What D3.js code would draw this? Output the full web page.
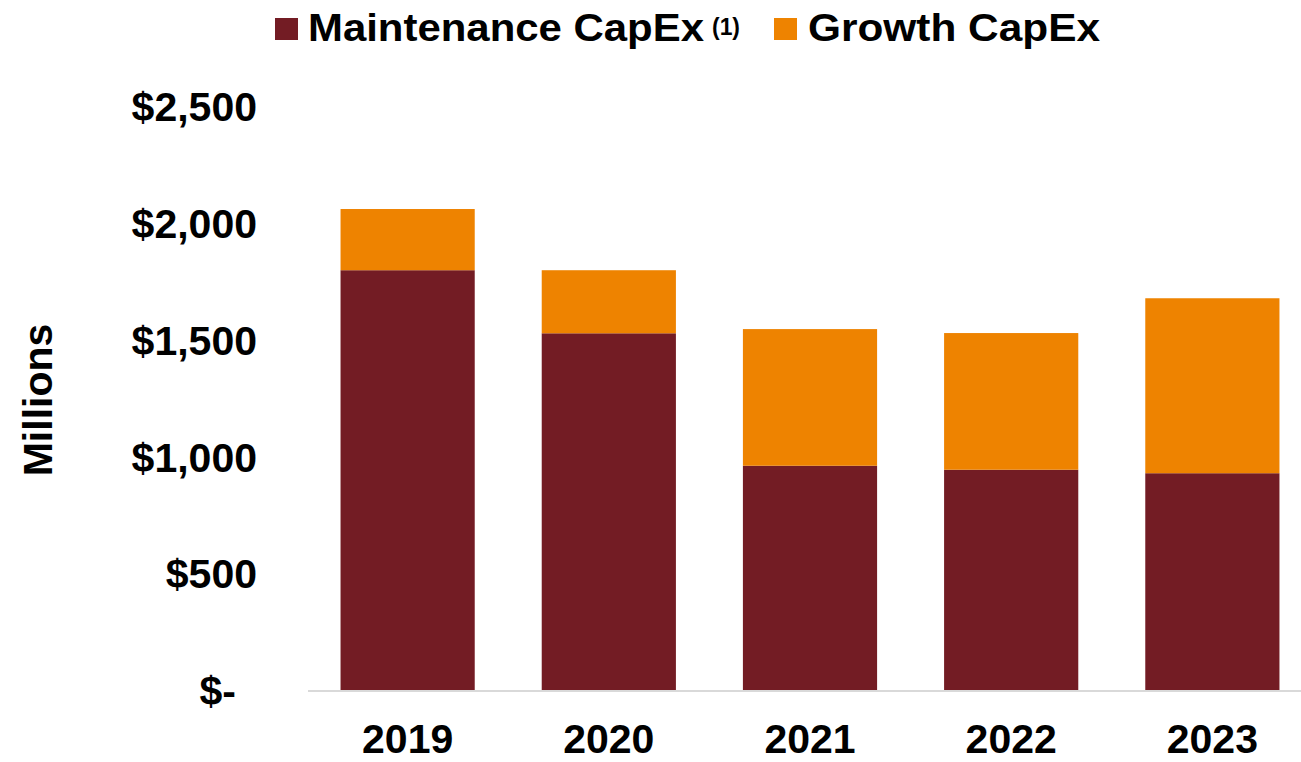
<!DOCTYPE html>
<html>
<head>
<meta charset="utf-8">
<script src="https://cdn.jsdelivr.net/npm/d3@7"></script>
<style>
  html, body { margin: 0; padding: 0; background: #ffffff; }
  svg { display: block; }
  text { font-family: "Liberation Sans", Arial, sans-serif; font-weight: bold; fill: #000; }
</style>
</head>
<body>
<svg id="chart" width="1301" height="762"></svg>
<script>
// Capital expenditure by year, $ millions
const years = ["2019", "2020", "2021", "2022", "2023"];
const maintenanceCapEx = [1797, 1527, 960, 943, 928];
const growthCapEx = [262, 270, 585, 585, 749];
const yTicks = [0, 500, 1000, 1500, 2000, 2500];
const seriesNames = ["Maintenance CapEx", "Growth CapEx"];
const seriesColors = ["#731c24", "#ee8300"];

const W = 1301, H = 762;
const svg = d3.select("#chart");

const x = d3.scaleBand()
  .domain(years)
  .range([307, 1313])
  .paddingInner(0.333)
  .paddingOuter(0.1667);

const y = d3.scaleLinear()
  .domain([0, 2500])
  .range([690, 106]);

// stacked layout
const rows = years.map((yr, i) => ({ year: yr, maint: maintenanceCapEx[i], growth: growthCapEx[i] }));
const stack = d3.stack().keys(["maint", "growth"]);
const layers = stack(rows);

svg.append("g")
  .selectAll("g")
  .data(layers)
  .join("g")
  .attr("fill", (d, i) => seriesColors[i])
  .selectAll("rect")
  .data(d => d)
  .join("rect")
  .attr("x", d => x(d.data.year))
  .attr("width", x.bandwidth())
  .attr("y", d => y(d[1]))
  .attr("height", d => y(d[0]) - y(d[1]));

// baseline
svg.append("line")
  .attr("x1", 308).attr("x2", W)
  .attr("y1", y(0) + 1).attr("y2", y(0) + 1)
  .attr("stroke", "#d9d9d9")
  .attr("stroke-width", 2);

// y axis labels
const fmt = v => v === 0 ? "$-" : "$" + d3.format(",")(v);
const yAxis = d3.axisLeft(y).tickValues(yTicks).tickFormat(fmt).tickSize(0).tickPadding(0);
const gy = svg.append("g").attr("transform", "translate(257,0)").call(yAxis);
gy.select(".domain").remove();
gy.selectAll("text")
  .attr("font-size", 41)
  .attr("font-family", "'Liberation Sans', Arial, sans-serif")
  .attr("font-weight", "bold")
  .attr("fill", "#000")
  .attr("dy", "0.36em");
gy.selectAll(".tick").filter(d => d === 0).select("text").attr("dx", -21);

// x axis labels
const xAxis = d3.axisBottom(x).tickSize(0).tickPadding(0);
const gx = svg.append("g").attr("transform", "translate(0,753)").call(xAxis);
gx.select(".domain").remove();
gx.selectAll("text")
  .attr("font-size", 41)
  .attr("font-family", "'Liberation Sans', Arial, sans-serif")
  .attr("font-weight", "bold")
  .attr("fill", "#000")
  .attr("dy", 0)
  .attr("y", 0);

// y axis title
svg.append("text")
  .attr("transform", "translate(52,400) rotate(-90)")
  .attr("text-anchor", "middle")
  .attr("font-size", 41)
  .text("Millions");

// legend
const legend = svg.append("g");
const legendItems = [
  { sq: 275, tx: 308, len: 396, sup: "(1)" },
  { sq: 774, tx: 808, len: 292, sup: null }
];
legendItems.forEach((it, i) => {
  legend.append("rect")
    .attr("x", it.sq).attr("y", 18)
    .attr("width", 23).attr("height", 22)
    .attr("fill", seriesColors[i]);
  legend.append("text")
    .attr("x", it.tx).attr("y", 41)
    .attr("font-size", 39)
    .attr("textLength", it.len)
    .attr("lengthAdjust", "spacingAndGlyphs")
    .text(seriesNames[i]);
  if (it.sup) {
    legend.append("text")
      .attr("x", 712).attr("y", 35)
      .attr("font-size", 23)
      .attr("textLength", 28)
      .attr("lengthAdjust", "spacingAndGlyphs")
      .text(it.sup);
  }
});
</script>
</body>
</html>
